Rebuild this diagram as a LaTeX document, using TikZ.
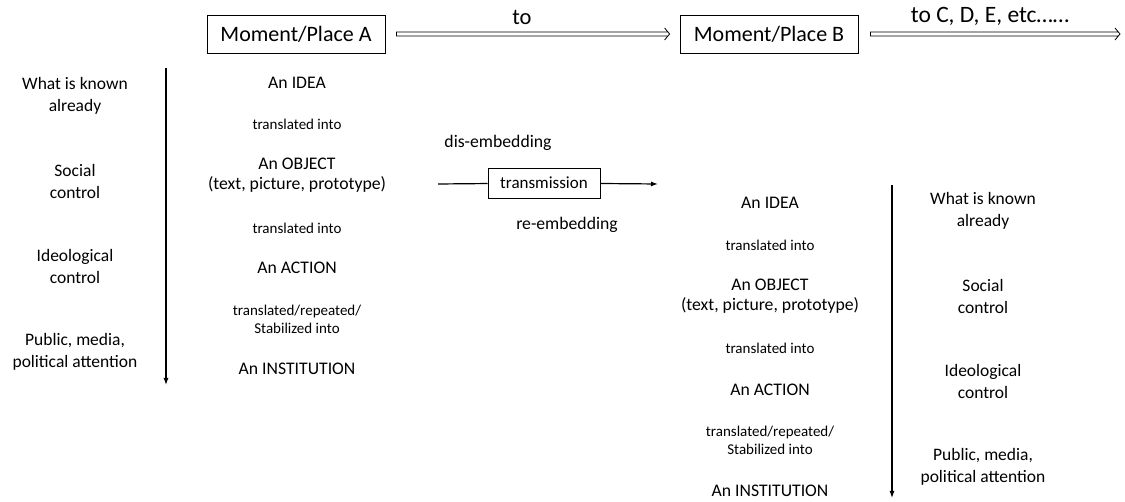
\documentclass[tikz,border=0pt]{standalone}
\usepackage{fontspec}
\setmainfont{Carlito}
\usetikzlibrary{arrows.meta,calc}
\tikzset{
  stage/.style={draw, line width=0.8pt, minimum width=178pt, minimum height=38pt, inner sep=0pt, font=\fontsize{22}{26}\selectfont},
  big/.style={font=\fontsize{22.5}{26}\selectfont},
  txt/.style={align=center, font=\fontsize{17.7}{20.5}\selectfont},
  note/.style={align=center, font=\fontsize{15}{18}\selectfont},
  side/.style={align=center, font=\fontsize{17.5}{22}\selectfont},
  hop/.style={line width=0.8pt, line join=miter},
  flow/.style={line width=1.2pt, -{Latex[length=7pt,width=5pt]}},
  tbox/.style={draw, line width=0.8pt, minimum width=112pt, minimum height=30pt, inner sep=0pt, font=\fontsize{17}{20}\selectfont}
}
\newcommand{\hollowarrow}[2]{\draw[hop] ($(#1)+(0,-2)$) -- ($(#2)+(-1.7,-2)$) -- ($(#2)+(-5,-6)$) -- (#2) -- ($(#2)+(-5,6)$) -- ($(#2)+(-1.7,2)$) -- ($(#1)+(0,2)$) -- cycle;}
\begin{document}
\begin{tikzpicture}[x=1pt,y=-1pt]
\useasboundingbox (0,0) rectangle (1125,502);
\node[stage] (mA) at (296,34){Moment/Place A};
\node[stage] (mB) at (769,34){Moment/Place B};
\coordinate (h1) at ($(mA.east)+(11,0)$);
\coordinate (h2) at ($(mB.west)+(-10,0)$);
\coordinate (h3) at ($(mB.east)+(12,0)$);
\coordinate (h4) at (1120,34);
\hollowarrow{h1}{h2}
\hollowarrow{h3}{h4}
\node[big] (to1) at (522,17){to};
\node[big, font=\fontsize{23.5}{26}\selectfont] (to2) at (990,16){to C, D, E, etc……};
\coordinate (lT) at (166,68);
\coordinate (lB) at (166,385);
\draw[flow](lT) -- (lB);
\node[side] (l1) at (75,96){What is known\\already};
\node[side] (l2) at (75,181){Social\\control};
\node[side] (l3) at (75,266){Ideological\\control};
\node[side] (l4) at (75,352){Public, media,\\political attention};
\node[txt] (a1) at (297,83){An IDEA};
\node[note] (a2) at (297,124){translated into};
\node[txt] (a3) at (297,175){An OBJECT\\(text, picture, prototype)};
\node[note] (a4) at (297,228){translated into};
\node[txt] (a5) at (297,268){An ACTION};
\node[note] (a6) at (297,319){translated/repeated/\\Stabilized into};
\node[txt] (a7) at (297,369){An INSTITUTION};
\coordinate (tS) at (438,184);
\node[tbox] (tr) at (544,183){transmission};
\coordinate (tE) at (658,184);
\draw[line width=1.2pt](tS) -- (tr);
\draw[flow](tr) -- (tE);
\node[txt] (dis) at (498,143){dis-embedding};
\node[txt] (re) at (567,225){re-embedding};
\node[txt] (b1) at (770,203){An IDEA};
\node[note] (b2) at (770,245){translated into};
\node[txt] (b3) at (770,296){An OBJECT\\(text, picture, prototype)};
\node[note] (b4) at (770,348){translated into};
\node[txt] (b5) at (770,390){An ACTION};
\node[note] (b6) at (770,440){translated/repeated/\\Stabilized into};
\node[txt] (b7) at (770,491){An INSTITUTION};
\coordinate (rT) at (892,185);
\coordinate (rB) at (892,498);
\draw[flow](rT) -- (rB);
\node[side] (r1) at (983,211){What is known\\already};
\node[side] (r2) at (983,296){Social\\control};
\node[side] (r3) at (983,381){Ideological\\control};
\node[side] (r4) at (983,467){Public, media,\\political attention};
\end{tikzpicture}
\end{document}
